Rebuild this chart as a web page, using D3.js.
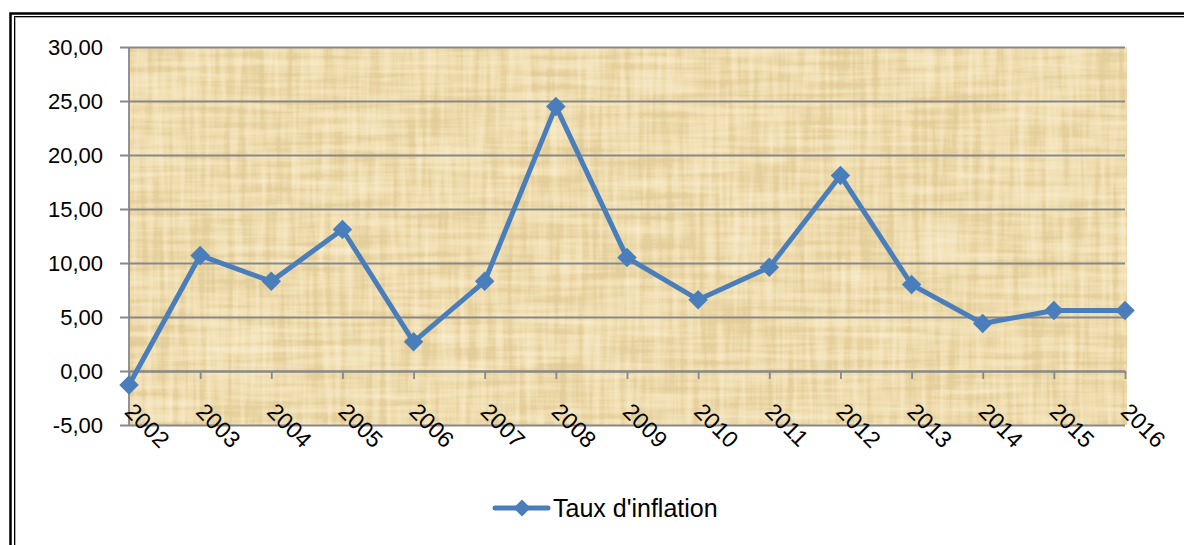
<!DOCTYPE html>
<html>
<head>
<meta charset="utf-8">
<script src="https://cdn.jsdelivr.net/npm/d3@7"></script>
<style>
  html, body { margin: 0; padding: 0; background: #fff; }
  svg { display: block; }
</style>
</head>
<body>
<svg id="chart" width="1184" height="545"></svg>
<script>
"use strict";

const years = ["2002", "2003", "2004", "2005", "2006", "2007", "2008", "2009",
  "2010", "2011", "2012", "2013", "2014", "2015", "2016"];
const inflation = [-1.3, 10.7, 8.3, 13.1, 2.7, 8.3, 24.5, 10.5, 6.6, 9.6, 18.1, 8.0, 4.4, 5.6, 5.6];
const yTicks = [-5, 0, 5, 10, 15, 20, 25, 30];
const seriesName = "Taux d'inflation";

const svg = d3.select("#chart");
const blue = "#4a7ebb";
const grid = "#888888";

const plot = { left: 129, right: 1125, top: 47, bottom: 425 };

const x = d3.scalePoint().domain(years).range([plot.left, plot.right]).padding(0);
const y = d3.scaleLinear().domain([-5, 30]).range([plot.bottom, plot.top]);

const fr = d3.formatLocale({ decimal: ",", thousands: " ", grouping: [3], currency: ["", ""], minus: "-" });
const fmt = fr.format(".2f");

// papyrus-like texture: dark and light fibres over a tan base
const defs = svg.append("defs");
const filt = defs.append("filter").attr("id", "papyrus")
  .attr("x", 0).attr("y", 0).attr("width", 1).attr("height", 1);
filt.append("feTurbulence").attr("type", "fractalNoise")
  .attr("baseFrequency", "0.01 0.15").attr("numOctaves", 3).attr("seed", 4).attr("result", "h");
filt.append("feTurbulence").attr("type", "fractalNoise")
  .attr("baseFrequency", "0.15 0.01").attr("numOctaves", 3).attr("seed", 9).attr("result", "v");
filt.append("feComposite").attr("in", "h").attr("in2", "v")
  .attr("operator", "arithmetic").attr("k2", 0.5).attr("k3", 0.5).attr("result", "n");
filt.append("feColorMatrix").attr("in", "n").attr("type", "matrix")
  .attr("values", "0 0 0 0 0.62  0 0 0 0 0.5  0 0 0 0 0.28  0 0 0 -1.3 0.75").attr("result", "dark");
filt.append("feColorMatrix").attr("in", "n").attr("type", "matrix")
  .attr("values", "0 0 0 0 1  0 0 0 0 0.97  0 0 0 0 0.88  0 0 0 1.4 -0.55").attr("result", "light");
filt.append("feMerge").attr("result", "m")
  .call(m => { m.append("feMergeNode").attr("in", "dark"); m.append("feMergeNode").attr("in", "light"); });
filt.append("feComposite").attr("in", "m").attr("in2", "SourceGraphic").attr("operator", "in");

svg.append("rect")
  .attr("x", plot.left).attr("y", plot.top)
  .attr("width", plot.right - plot.left + 2).attr("height", plot.bottom - plot.top)
  .attr("fill", "#eed8a2");
svg.append("rect")
  .attr("x", plot.left).attr("y", plot.top)
  .attr("width", plot.right - plot.left + 2).attr("height", plot.bottom - plot.top)
  .attr("fill", "#eed8a2")
  .attr("filter", "url(#papyrus)");

// frame
svg.append("rect").attr("x", 10.5).attr("y", 13.5).attr("width", 1300).attr("height", 700)
  .attr("fill", "none").attr("stroke", "#000").attr("stroke-width", 2.5);
svg.append("rect").attr("x", 14.5).attr("y", 16.5).attr("width", 1300).attr("height", 700)
  .attr("fill", "none").attr("stroke", "#000").attr("stroke-width", 1);
svg.append("rect").attr("x", 15.5).attr("y", 17.5).attr("width", 1300).attr("height", 700)
  .attr("fill", "none").attr("stroke", "#b0b0b0").attr("stroke-width", 1);

// y axis with gridlines
const yAxis = svg.append("g")
  .attr("transform", `translate(${plot.left},0)`)
  .call(d3.axisLeft(y).tickValues(yTicks).tickFormat(fmt)
    .tickSize(-(plot.right - plot.left)).tickPadding(26));
yAxis.select(".domain").remove();
yAxis.selectAll(".tick line")
  .attr("x1", -9)
  .attr("stroke", grid).attr("stroke-width", 1.8);
yAxis.selectAll(".tick text")
  .attr("font-family", "'Liberation Sans', Arial, sans-serif")
  .attr("font-size", 22).attr("fill", "#000");

svg.append("line")
  .attr("x1", plot.left).attr("x2", plot.left)
  .attr("y1", plot.top).attr("y2", plot.bottom)
  .attr("stroke", grid).attr("stroke-width", 1.8);

// x axis at zero
const xAxis = svg.append("g")
  .attr("transform", `translate(0,${y(0)})`)
  .call(d3.axisBottom(x).tickSize(8).tickSizeOuter(0));
xAxis.select(".domain").attr("stroke", grid).attr("stroke-width", 1.8);
xAxis.selectAll(".tick line").attr("stroke", grid).attr("stroke-width", 1.8);
xAxis.selectAll(".tick text")
  .attr("font-family", "'Liberation Sans', Arial, sans-serif")
  .attr("font-size", 23).attr("fill", "#000")
  .attr("text-anchor", "start")
  .attr("dy", null).attr("y", null)
  .attr("transform", `translate(-6,${413 - y(0)}) rotate(45)`);

// series
const line = d3.line().x((d, i) => x(years[i])).y(d => y(d));
svg.append("path")
  .datum(inflation)
  .attr("d", line)
  .attr("fill", "none").attr("stroke", blue)
  .attr("stroke-width", 5).attr("stroke-linejoin", "round").attr("stroke-linecap", "round");

const diamond = d3.symbol().type(d3.symbolSquare).size(190);
svg.selectAll(".marker")
  .data(inflation)
  .join("path")
  .attr("class", "marker")
  .attr("d", diamond)
  .attr("transform", (d, i) => `translate(${x(years[i])},${y(d)}) rotate(45)`)
  .attr("fill", blue);

// legend
const legend = svg.append("g").attr("transform", "translate(495,508)");
legend.append("line").attr("x1", 0).attr("x2", 53)
  .attr("stroke", blue).attr("stroke-width", 5).attr("stroke-linecap", "round");
legend.append("path").attr("d", d3.symbol().type(d3.symbolSquare).size(145))
  .attr("transform", "translate(27,0) rotate(45)").attr("fill", blue);
legend.append("text").attr("x", 58).attr("y", 9)
  .attr("font-family", "'Liberation Sans', Arial, sans-serif")
  .attr("font-size", 25).attr("fill", "#000")
  .text(seriesName);
</script>
</body>
</html>
